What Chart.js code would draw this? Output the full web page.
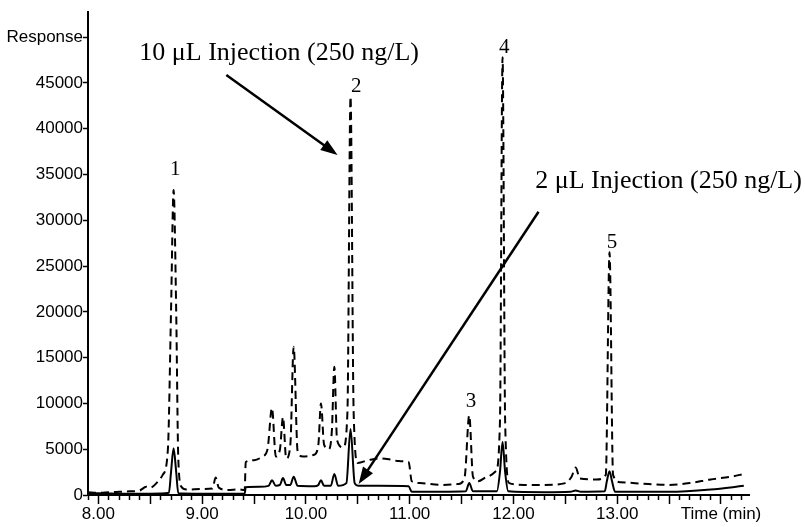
<!DOCTYPE html>
<html>
<head>
<meta charset="utf-8">
<title>Chromatogram</title>
<script src="https://cdn.jsdelivr.net/npm/chart.js"></script>
<style>
    html, body { margin: 0; padding: 0; background: #fff; }
    #wrap { width: 805px; height: 527px; }
</style>
</head>
<body>
<div id="wrap"><canvas id="chromChart" width="805" height="527"></canvas></div>
<script>
// Retention time (min) and response
const tenTimes = [7.90, 8.00, 8.10, 8.20, 8.30, 8.40, 8.46, 8.50, 8.56, 8.62, 8.67, 8.70, 8.725, 8.75, 8.77, 8.80, 8.85,
    9.00, 9.10, 9.13, 9.16, 9.25, 9.35, 9.41, 9.42, 9.50, 9.58, 9.63, 9.673, 9.71, 9.75, 9.779, 9.81, 9.85, 9.882, 9.92, 9.97,
    10.08, 10.12, 10.145, 10.175, 10.22, 10.25, 10.274, 10.30, 10.36, 10.40, 10.43, 10.46, 10.50, 10.60, 10.70, 10.80, 10.90, 10.99,
    11.02, 11.10, 11.30, 11.47, 11.53, 11.574, 11.61, 11.66, 11.75, 11.83, 11.87, 11.895, 11.92, 11.96,
    12.10, 12.30, 12.50, 12.56, 12.60, 12.64, 12.80, 12.89, 12.926, 12.96, 13.03, 13.30, 13.50, 13.70, 13.90, 14.10, 14.22];
const tenResp = [300, 250, 300, 350, 400, 500, 900, 800, 1300, 2200, 5000, 20000, 33300, 20000, 4000, 900, 600,
    650, 700, 1900, 800, 550, 600, 550, 3600, 3800, 4200, 5000, 9500, 4200, 5000, 8500, 4000, 5500, 16200, 4800, 4200,
    4400, 5500, 10000, 5500, 5000, 7000, 14000, 6000, 5200, 9000, 43500, 9000, 3500, 3800, 4000, 3900, 3700, 3600,
    1500, 1300, 1100, 1200, 2000, 8700, 2000, 1500, 2000, 2600, 8000, 47800, 8000, 1300,
    1100, 1100, 1300, 2000, 3000, 1800, 1700, 2200, 26500, 2200, 1400, 1200, 1100, 1300, 1700, 2000, 2300];

const twoTimes = [7.90, 8.20, 8.50, 8.68, 8.70, 8.725, 8.75, 8.77, 9.00, 9.41, 9.42, 9.55, 9.64, 9.673, 9.71, 9.75, 9.779, 9.81,
    9.85, 9.882, 9.92, 10.08, 10.12, 10.145, 10.175, 10.24, 10.274, 10.31, 10.39, 10.43, 10.47, 10.51, 10.70, 10.99,
    11.02, 11.30, 11.54, 11.574, 11.61, 11.84, 11.87, 11.895, 11.92, 11.95, 12.30, 12.55, 12.60, 12.65, 12.88, 12.90,
    12.926, 12.95, 12.98, 13.50, 13.90, 14.22];
const twoResp = [200, 150, 150, 250, 2500, 5100, 2500, 200, 150, 150, 850, 900, 1000, 1600, 1000, 1100, 1850, 1100,
    1100, 2000, 1000, 950, 1100, 1600, 1000, 1000, 2300, 1000, 1300, 7200, 1300, 1000, 1000, 950,
    350, 350, 400, 1300, 400, 400, 2500, 5800, 2500, 400, 300, 350, 500, 350, 400, 1500,
    2600, 1500, 350, 350, 600, 1000];

// Axis labels
const xTickLabels = { 8: '8.00', 9: '9.00', 10: '10.00', 11: '11.00', 12: '12.00', 13: '13.00', 14: 'Time (min)' };
const yTickValues = [0, 5000, 10000, 15000, 20000, 25000, 30000, 35000, 40000, 45000, 50000];
const yTopLabel = 'Response';

// Peak numbers
const peakNames = ['1', '2', '3', '4', '5'];
const peakTimes = [8.742, 10.486, 11.59, 11.911, 12.949];
const peakLabelLevels = [34950, 44010, 9610, 48280, 26980];

document.addEventListener('DOMContentLoaded', function() {
    const toPoints = (xs, ys) => xs.map((t, i) => ({ x: t, y: ys[i] }));

    // Draws peak numbers and the two injection notes with arrows
    const notesPlugin = {
        id: 'notes',
        afterDatasetsDraw(chart) {
            const ctx = chart.ctx;
            const xs = chart.scales.x;
            const ys = chart.scales.y;
            const px = v => xs.getPixelForValue(v);
            const py = v => ys.getPixelForValue(v);

            ctx.save();
            ctx.fillStyle = '#000';
            ctx.strokeStyle = '#000';

            ctx.font = '21px "Liberation Serif", "Times New Roman", serif';
            ctx.textAlign = 'center';
            ctx.textBaseline = 'alphabetic';
            peakNames.forEach((name, i) => {
                ctx.fillText(name, px(peakTimes[i]), py(peakLabelLevels[i]));
            });

            ctx.font = '26px "Liberation Serif", "Times New Roman", serif';
            ctx.textAlign = 'left';
            ctx.fillText('10 \u03bcL Injection (250 ng/L)', px(8.395), py(47510));
            ctx.fillText('2 \u03bcL Injection (250 ng/L)', px(12.21), py(33530));

            drawArrow(ctx, px(9.233), py(45870), px(10.305), py(37130));
            drawArrow(ctx, px(12.242), py(30940), px(10.508), py(1200));
            ctx.restore();
        }
    };

    function drawArrow(ctx, x1, y1, x2, y2) {
        const ang = Math.atan2(y2 - y1, x2 - x1);
        const headLen = 17;
        const headHalf = 6;
        ctx.lineWidth = 2.5;
        ctx.beginPath();
        ctx.moveTo(x1, y1);
        ctx.lineTo(x2 - Math.cos(ang) * headLen * 0.8, y2 - Math.sin(ang) * headLen * 0.8);
        ctx.stroke();
        ctx.beginPath();
        ctx.moveTo(x2, y2);
        ctx.lineTo(x2 - Math.cos(ang) * headLen + Math.sin(ang) * headHalf,
                   y2 - Math.sin(ang) * headLen - Math.cos(ang) * headHalf);
        ctx.lineTo(x2 - Math.cos(ang) * headLen - Math.sin(ang) * headHalf,
                   y2 - Math.sin(ang) * headLen + Math.cos(ang) * headHalf);
        ctx.closePath();
        ctx.fill();
    }

    const isHalfMinute = v => Math.abs(v * 2 - Math.round(v * 2)) < 1e-6;

    new Chart(document.getElementById('chromChart'), {
        type: 'line',
        data: {
            datasets: [
                {
                    label: '10 \u03bcL Injection',
                    data: toPoints(tenTimes, tenResp),
                    borderColor: '#000',
                    borderWidth: 2,
                    borderDash: [8, 5],
                    pointRadius: 0,
                    cubicInterpolationMode: 'monotone',
                    fill: false
                },
                {
                    label: '2 \u03bcL Injection',
                    data: toPoints(twoTimes, twoResp),
                    borderColor: '#000',
                    borderWidth: 2,
                    pointRadius: 0,
                    cubicInterpolationMode: 'monotone',
                    fill: false
                }
            ]
        },
        options: {
            responsive: false,
            animation: false,
            layout: { padding: { top: 12, right: 56, bottom: 0, left: 0 } },
            plugins: {
                legend: { display: false },
                tooltip: { enabled: false }
            },
            scales: {
                x: {
                    type: 'linear',
                    min: 7.9,
                    max: 14.27,
                    afterBuildTicks: function(scale) {
                        const ticks = [];
                        for (let i = 79; i <= 142; i++) ticks.push({ value: i / 10 });
                        scale.ticks = ticks;
                    },
                    afterFit: function(scale) { scale.height = 32; },
                    border: { display: true, color: '#000', width: 2 },
                    grid: {
                        drawOnChartArea: false,
                        drawTicks: true,
                        tickLength: 9,
                        tickWidth: 1.5,
                        tickColor: '#000',
                        tickBorderDash: function(c) {
                            return (c.tick && isHalfMinute(c.tick.value)) ? [] : [4, 20];
                        }
                    },
                    ticks: {
                        autoSkip: false,
                        maxRotation: 0,
                        padding: 0,
                        color: '#000',
                        font: { family: '"Liberation Sans", Arial, sans-serif', size: 17 },
                        callback: function(value) {
                            const r = Math.round(value);
                            if (Math.abs(value - r) < 1e-6 && xTickLabels[r]) return xTickLabels[r];
                            return '';
                        }
                    }
                },
                y: {
                    min: 0,
                    max: 52750,
                    afterBuildTicks: function(scale) {
                        scale.ticks = yTickValues.map(v => ({ value: v }));
                    },
                    afterFit: function(scale) { scale.width = 88; },
                    border: { display: true, color: '#000', width: 2 },
                    grid: {
                        drawOnChartArea: false,
                        drawTicks: true,
                        tickLength: 5,
                        tickWidth: 1.5,
                        tickColor: '#000'
                    },
                    ticks: {
                        padding: 0,
                        color: '#000',
                        font: { family: '"Liberation Sans", Arial, sans-serif', size: 17 },
                        callback: function(value) {
                            return value === 50000 ? yTopLabel : String(value);
                        }
                    }
                }
            }
        },
        plugins: [notesPlugin]
    });
});
</script>
</body>
</html>
